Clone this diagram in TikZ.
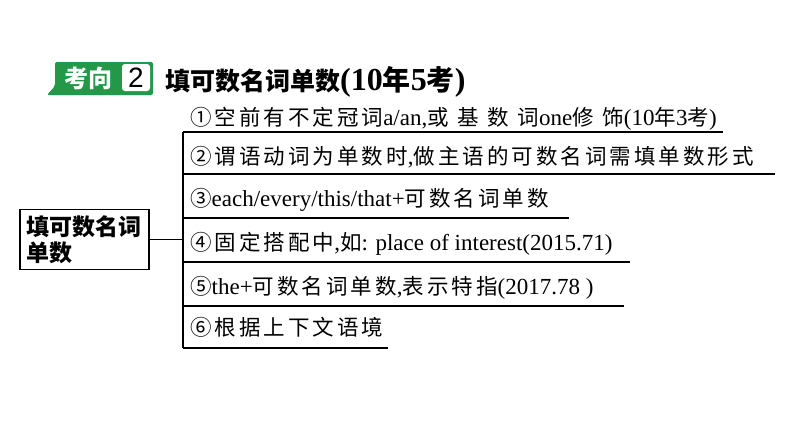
\documentclass[tikz,border=0pt]{standalone}
\usepackage{fontspec}
\setmainfont{Liberation Serif}
\setsansfont{Liberation Sans}
\newfontfamily\cjk[LetterSpace=14]{Noto Sans CJK SC}
\newfontfamily\cjkwide[LetterSpace=40]{Noto Sans CJK SC}
\newfontfamily\hei{Noto Sans CJK SC}
\newcommand\zh[1]{{\fontsize{21.5}{24}\cjk #1}}
\newcommand\zhw[1]{{\fontsize{21.5}{24}\cjkwide #1}}
\definecolor{kxgreen}{RGB}{35,152,72}

\begin{document}
\begin{tikzpicture}[x=1pt,y=-1pt]
            \tikzset{item/.style={anchor=base west, inner sep=0pt, font=\fontsize{23}{26}\selectfont},
                     rule/.style={line width=1.3pt}}
            \useasboundingbox (0,0) rectangle (794,447);

            \fill [kxgreen, rounded corners=2pt] (55,62) -- (153,62) -- (153,95) -- (47,95) -- (55,86) -- cycle;
            \fill [white, rounded corners=3pt] (122,64) rectangle (150,91);
            \node [white, font=\hei\bfseries\fontsize{24}{26}\selectfont] (kx) at (88,78) {考向};
            \node [font=\sffamily\fontsize{28}{30}\selectfont] (num) at (136,78) {2};
            \node [anchor=base west, inner sep=0pt, font=\hei\bfseries\fontsize{25}{30}\selectfont] (title) at (165,90)
                {填可数名词单数{\rmfamily\bfseries\fontsize{32}{32}\selectfont(10}{\fontsize{28}{30}\selectfont 年}{\rmfamily\bfseries\fontsize{32}{32}\selectfont 5}{\fontsize{28}{30}\selectfont 考}{\rmfamily\bfseries\fontsize{32}{32}\selectfont)}};

            \node [draw, rule, minimum width=129pt, minimum height=59pt, text width=117pt, inner sep=6pt, align=left,
                   font=\hei\bfseries\fontsize{23}{26}\selectfont] (topic) at (84.5,239.5) {填可数名词\\单数};

            \node [item] (i1) at (190,125) {\zh{①空前有不定冠词}a/an,\zhw{或基数词}one\zhw{修饰}(10\zhw{年}3\zh{考})};
            \node [item] (i2) at (190,164) {\zh{②谓语动词为单数时},\zh{做主语的可数名词需填单数形式}};
            \node [item] (i3) at (190,206) {\zh{③}each/every/this/that+\zh{可数名词单数}};
            \node [item] (i4) at (190,250) {\zh{④固定搭配中},\zh{如}: place of interest(2015.71)};
            \node [item] (i5) at (190,294) {\zh{⑤}the+\zh{可数名词单数},\zh{表示特指}(2017.78 )};
            \node [item] (i6) at (190,335) {\zh{⑥根据上下文语境}};

            \foreach \n/\y/\r in {1/132/723, 2/174/775, 3/218/569, 4/262/630, 5/306/624, 6/348/388} {
                \coordinate (l\n) at (183,\y);
                \coordinate (r\n) at (\r,\y);
                \draw [rule] (l\n) -- (r\n);
            }
            \draw [rule] (l1) -- (l6);
            \draw [rule] (topic.east) -- (topic.east -| l1);
        \end{tikzpicture}
\end{document}
